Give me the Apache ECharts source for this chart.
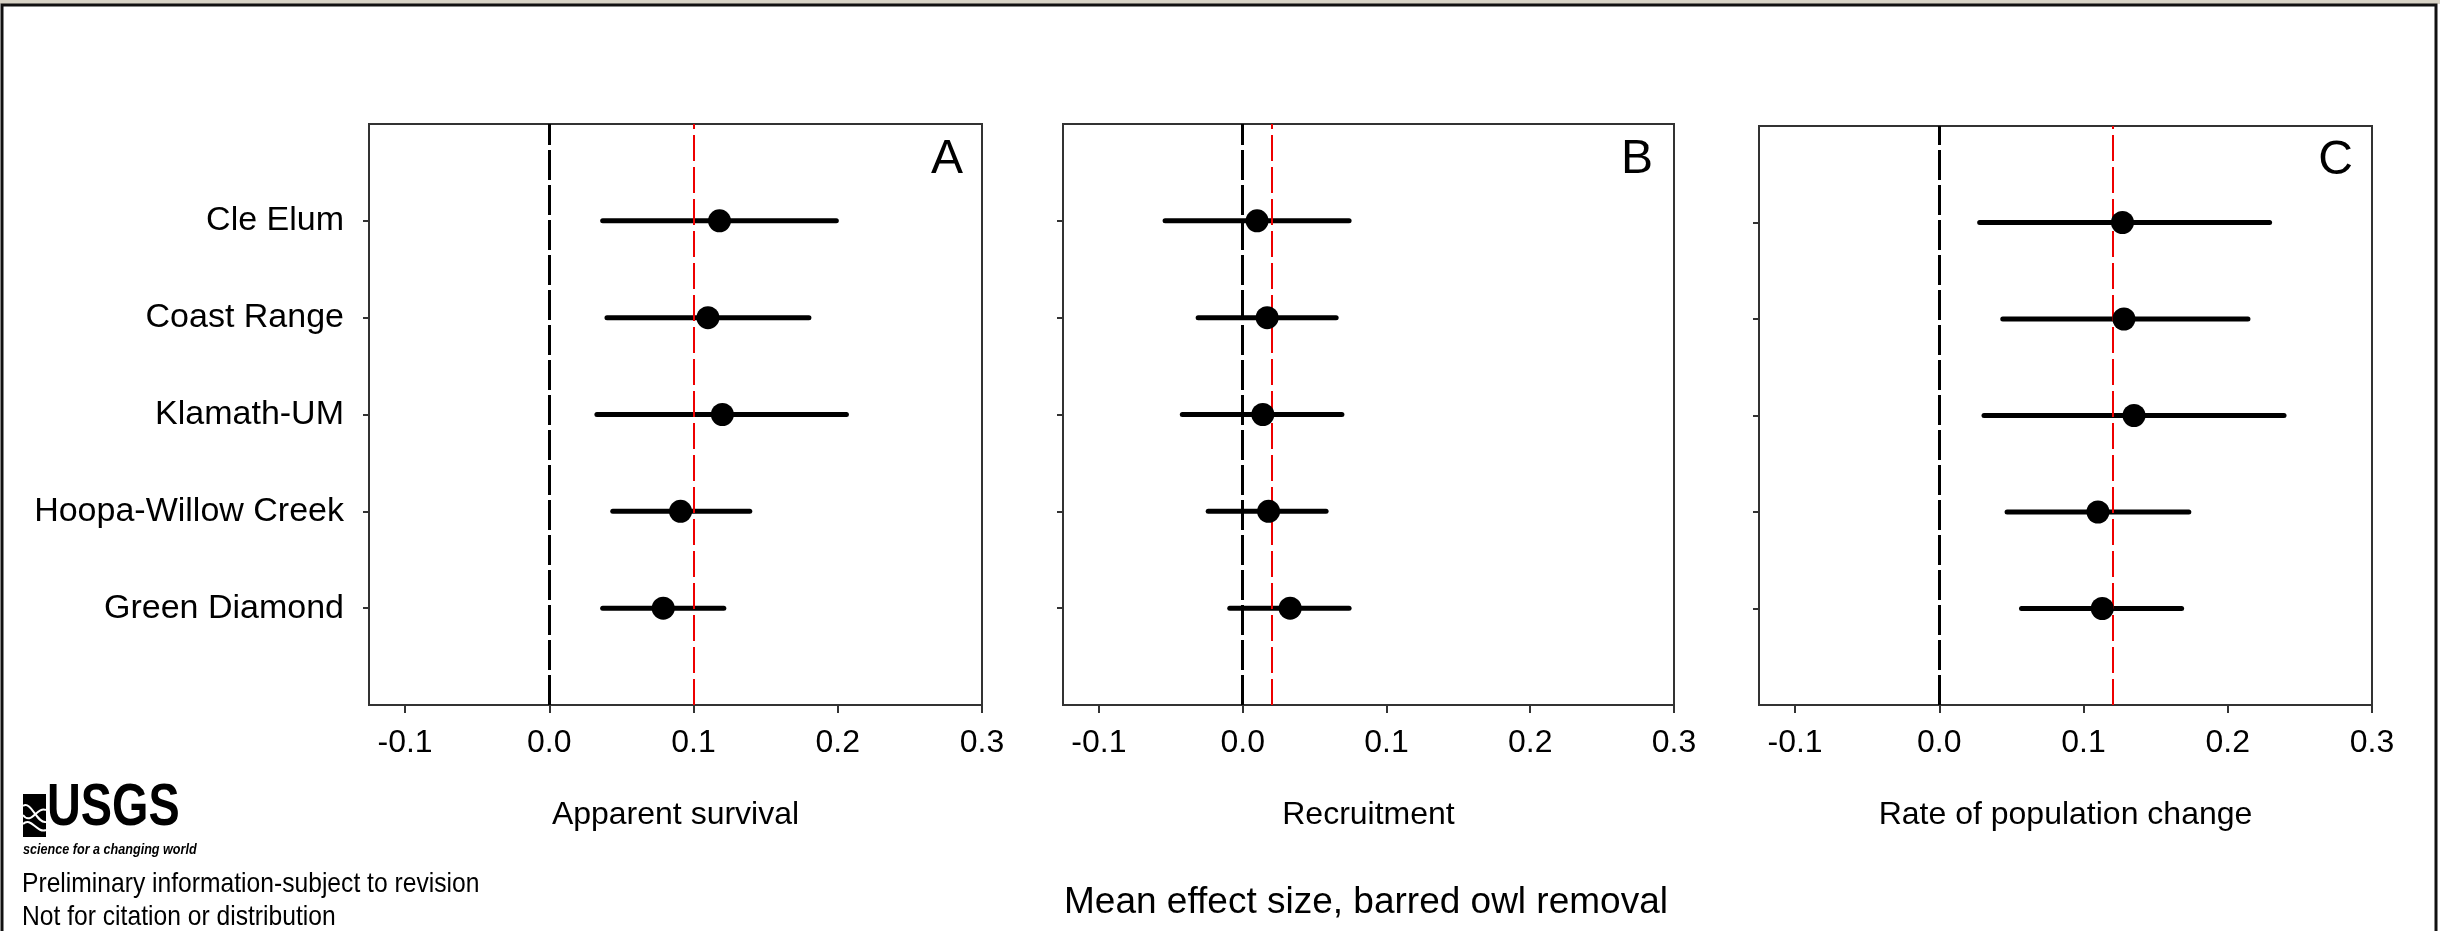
<!DOCTYPE html>
<html><head><meta charset="utf-8">
<script src="https://cdn.jsdelivr.net/npm/echarts@6/dist/echarts.min.js"></script>
<style>html,body{margin:0;padding:0;background:#fff;}#c{width:2440px;height:931px;}</style>
</head><body><div id="c"></div>
<script>
// Sites, top to bottom
const sites = ['Cle Elum', 'Coast Range', 'Klamath-UM', 'Hoopa-Willow Creek', 'Green Diamond'];
const xTicks = [-0.1, 0.0, 0.1, 0.2, 0.3];
const panelTitles = ['Apparent survival', 'Recruitment', 'Rate of population change'];
const panelLetters = ['A', 'B', 'C'];

const survivalMean = [0.118, 0.110, 0.120, 0.091, 0.079];
const survivalLow  = [0.037, 0.040, 0.033, 0.044, 0.037];
const survivalHigh = [0.199, 0.180, 0.206, 0.139, 0.121];

const recruitMean = [0.010, 0.017, 0.014, 0.018, 0.033];
const recruitLow  = [-0.054, -0.031, -0.042, -0.024, -0.009];
const recruitHigh = [0.074, 0.065, 0.069, 0.058, 0.074];

const lambdaMean = [0.127, 0.128, 0.135, 0.110, 0.113];
const lambdaLow  = [0.028, 0.044, 0.031, 0.047, 0.057];
const lambdaHigh = [0.229, 0.214, 0.239, 0.173, 0.168];

const overallMean = [0.104, 0.018, 0.123];

const panels = [
  {mean: survivalMean, low: survivalLow, high: survivalHigh},
  {mean: recruitMean, low: recruitLow, high: recruitHigh},
  {mean: lambdaMean, low: lambdaLow, high: lambdaHigh}
];

const FONT = '"Liberation Sans", Arial, sans-serif';
const grids = [
  {left: 369, top: 124, width: 613, height: 581},
  {left: 1063, top: 124, width: 611, height: 581},
  {left: 1759, top: 126, width: 613, height: 579}
];
const yPos = i => sites.length - i; // row position on the y scale

const option = {
  animation: false,
  backgroundColor: '#fff',
  grid: grids.map(g => Object.assign({show: true, borderColor: '#333', borderWidth: 2, backgroundColor: 'transparent'}, g)),
  xAxis: grids.map((g, k) => ({
    gridIndex: k, type: 'value', min: -0.125, max: 0.3,
    name: panelTitles[k], nameLocation: 'middle', nameGap: 94,
    nameTextStyle: {fontFamily: FONT, fontSize: 32, color: '#000'},
    splitLine: {show: false},
    axisLine: {show: true, onZero: false, lineStyle: {color: '#333', width: 2}},
    axisTick: {show: true, inside: false, length: 8, customValues: xTicks, lineStyle: {color: '#333', width: 2}},
    axisLabel: {customValues: xTicks, formatter: v => v.toFixed(1), margin: 22,
      fontFamily: FONT, fontSize: 32, color: '#000'}
  })),
  yAxis: grids.map((g, k) => ({
    gridIndex: k, type: 'value', min: 0, max: 6,
    splitLine: {show: false},
    axisLine: {show: true, onZero: false, lineStyle: {color: '#333', width: 2}},
    axisTick: {show: true, length: 6, customValues: [1, 2, 3, 4, 5], lineStyle: {color: '#333', width: 2}},
    axisLabel: {show: k === 0, customValues: [1, 2, 3, 4, 5], margin: 25,
      formatter: v => sites[sites.length - v] || '',
      fontFamily: FONT, fontSize: 34, color: '#000'}
  })),
  series: []
};

panels.forEach((p, k) => {
  option.series.push({
    type: 'custom', xAxisIndex: k, yAxisIndex: k,
    encode: {x: [0, 1], y: 2},
    data: sites.map((s, i) => [p.low[i], p.high[i], yPos(i)]),
    renderItem: (params, api) => {
      const a = api.coord([api.value(0), api.value(2)]);
      const b = api.coord([api.value(1), api.value(2)]);
      return {type: 'line', shape: {x1: a[0], y1: a[1], x2: b[0], y2: b[1]},
        style: {stroke: '#000', lineWidth: 5, lineCap: 'round'}};
    },
    markLine: {
      silent: true, symbol: 'none', label: {show: false},
      data: [
        {xAxis: 0, lineStyle: {color: '#000', width: 3, type: [30, 5], opacity: 1}},
        {xAxis: overallMean[k], lineStyle: {color: '#ee0000', width: 2, type: [26, 6], opacity: 1}}
      ]
    },
    z: 3
  });
  option.series.push({
    type: 'scatter', xAxisIndex: k, yAxisIndex: k,
    data: sites.map((s, i) => [p.mean[i], yPos(i)]),
    symbol: 'circle', symbolSize: 23, itemStyle: {color: '#000', opacity: 1}, z: 5
  });
});

option.graphic = [
  {type: 'rect', shape: {x: 0, y: 0, width: 2440, height: 4}, style: {fill: '#d8d3c6'}, silent: true},
  {type: 'rect', shape: {x: 2, y: 5, width: 2434, height: 940}, style: {fill: 'none', stroke: '#111', lineWidth: 3}, silent: true},
  {type: 'text', style: {text: panelLetters[0], x: 963, y: 184, textAlign: 'right', textVerticalAlign: 'bottom', font: '48px ' + FONT, fill: '#000'}},
  {type: 'text', style: {text: panelLetters[1], x: 1653, y: 184, textAlign: 'right', textVerticalAlign: 'bottom', font: '48px ' + FONT, fill: '#000'}},
  {type: 'text', style: {text: panelLetters[2], x: 2353, y: 185, textAlign: 'right', textVerticalAlign: 'bottom', font: '48px ' + FONT, fill: '#000'}},
  {type: 'text', style: {text: 'Mean effect size, barred owl removal', x: 1366, y: 903, textAlign: 'center', textVerticalAlign: 'middle', font: '37px ' + FONT, fill: '#000'}},
  {type: 'text', x: 22, y: 884, scaleX: 0.88, style: {text: 'Preliminary information-subject to revision', x: 0, y: 0, textAlign: 'left', textVerticalAlign: 'middle', font: '28px ' + FONT, fill: '#000'}},
  {type: 'text', x: 22, y: 917, scaleX: 0.88, style: {text: 'Not for citation or distribution', x: 0, y: 0, textAlign: 'left', textVerticalAlign: 'middle', font: '28px ' + FONT, fill: '#000'}},
  // USGS logo
  {type: 'rect', shape: {x: 23, y: 794, width: 23, height: 43}, style: {fill: '#000'}},
  {type: 'bezierCurve', shape: {x1: 23, y1: 806, x2: 46, y2: 822, cpx1: 31, cpy1: 800, cpx2: 37, cpy2: 824}, style: {stroke: '#fff', lineWidth: 2, fill: 'none'}},
  {type: 'bezierCurve', shape: {x1: 23, y1: 815, x2: 46, y2: 810, cpx1: 31, cpy1: 826, cpx2: 37, cpy2: 806}, style: {stroke: '#fff', lineWidth: 2, fill: 'none'}},
  {type: 'bezierCurve', shape: {x1: 23, y1: 824, x2: 46, y2: 830, cpx1: 31, cpy1: 816, cpx2: 37, cpy2: 834}, style: {stroke: '#fff', lineWidth: 2, fill: 'none'}},
  {type: 'text', x: 47, y: 838, scaleX: 0.78, style: {text: 'USGS', x: 0, y: 0, textAlign: 'left', textVerticalAlign: 'bottom', font: 'bold 60px ' + FONT, fill: '#000'}},
  {type: 'text', x: 23, y: 850, scaleX: 0.9, style: {text: 'science for a changing world', x: 0, y: 0, textAlign: 'left', textVerticalAlign: 'middle', font: 'italic bold 14px ' + FONT, fill: '#000'}}
];

const chart = echarts.init(document.getElementById('c'), null, {renderer: 'canvas'});
chart.setOption(option);
</script>
</body></html>
